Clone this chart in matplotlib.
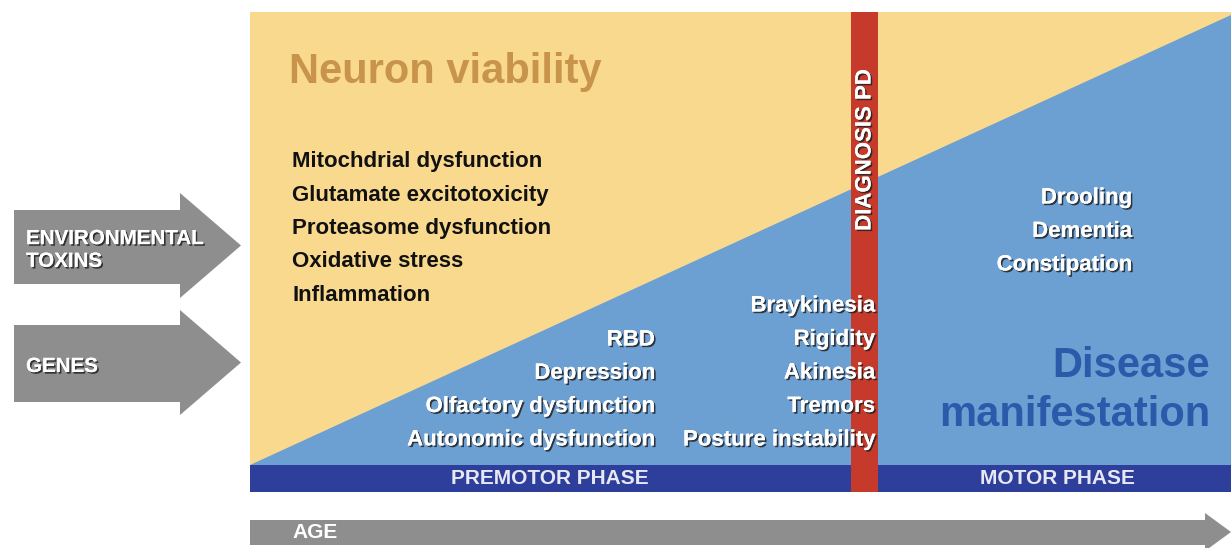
import matplotlib
matplotlib.use("Agg")
import matplotlib.pyplot as plt
from matplotlib.patches import Polygon, Rectangle
import matplotlib.patheffects as pe

plt.rcParams['font.family'] = ['Liberation Sans', 'DejaVu Sans']

# ---- content ----
title_top = "Neuron viability"
title_bottom = ["Disease", "manifestation"]
mechanisms = ["Mitochdrial dysfunction", "Glutamate excitotoxicity",
              "Proteasome dysfunction", "Oxidative stress", "Inflammation"]
premotor_symptoms = ["RBD", "Depression", "Olfactory dysfunction", "Autonomic dysfunction"]
motor_symptoms = ["Braykinesia", "Rigidity", "Akinesia", "Tremors", "Posture instability"]
late_symptoms = ["Drooling", "Dementia", "Constipation"]
phases = ["PREMOTOR PHASE", "MOTOR PHASE"]
inputs = ["ENVIRONMENTAL\nTOXINS", "GENES"]
diagnosis = "DIAGNOSIS PD"
axis_label = "AGE"

YELLOW = "#f9d98e"
BLUE = "#6c9fd2"
DARK = "#2d3f9b"
RED = "#c63a2b"
GRAY = "#8e8e8e"

fig = plt.figure(figsize=(12.31, 5.48), dpi=100)
ax = fig.add_axes([0, 0, 1, 1])
ax.set_xlim(0, 1231)
ax.set_ylim(548, 0)
ax.axis("off")

L, R, T, B = 250, 1231, 12, 465
ax.add_patch(Rectangle((L, T), R - L, B - T, color=YELLOW, lw=0))
ax.add_patch(Polygon([(L, B), (R, B), (R, 15)], closed=True, color=BLUE, lw=0))
ax.add_patch(Rectangle((L, B), R - L, 27, color=DARK, lw=0))
ax.add_patch(Rectangle((851, T), 27, 492 - T, color=RED, lw=0))

shadow = [pe.withSimplePatchShadow(offset=(1.2, -1.2), shadow_rgbFace="#222222", alpha=0.85), pe.Normal()]

ax.text(289, 72, title_top, fontsize=30, fontweight="bold", color="#c8944c",
        ha="left", va="center")
ax.text(1210, 366, title_bottom[0], fontsize=30, fontweight="bold", color="#2a5aa9",
        ha="right", va="center")
ax.text(1210, 415, title_bottom[1], fontsize=30, fontweight="bold", color="#2a5aa9",
        ha="right", va="center")

FS = 16
for i, t in enumerate(mechanisms):
    ax.text(292, 162 + i * 33.3, t, fontsize=FS, fontweight="bold", color="#111111",
            ha="left", va="center")
for i, t in enumerate(premotor_symptoms):
    ax.text(655, 340 + i * 33.3, t, fontsize=FS, fontweight="bold", color="white",
            ha="right", va="center", path_effects=shadow)
for i, t in enumerate(motor_symptoms):
    ax.text(875, 306 + i * 33.5, t, fontsize=FS, fontweight="bold", color="white",
            ha="right", va="center", path_effects=shadow)
for i, t in enumerate(late_symptoms):
    ax.text(1132, 198 + i * 33.5, t, fontsize=FS, fontweight="bold", color="white",
            ha="right", va="center", path_effects=shadow)

ax.text(865, 150, diagnosis, fontsize=16, fontweight="bold", color="white",
        rotation=90, ha="center", va="center", path_effects=shadow)

ax.text(550, 479, phases[0], fontsize=15, fontweight="bold", color="#e8e8f4",
        ha="center", va="center")
ax.text(1057, 479, phases[1], fontsize=15, fontweight="bold", color="#e8e8f4",
        ha="center", va="center")

ax.add_patch(Polygon([(250, 520), (1205, 520), (1205, 513), (1231, 532),
                      (1205, 551), (1205, 545), (250, 545)], closed=True, color=GRAY, lw=0))
ax.text(292, 533, axis_label, fontsize=15, fontweight="bold", color="white",
        ha="left", va="center")

arrow_y = [(210, 284, 193, 298), (325, 402, 310, 415)]
for (st, sb, ht, hb), lab in zip(arrow_y, inputs):
    mid = (ht + hb) / 2
    ax.add_patch(Polygon([(14, st), (180, st), (180, ht), (241, mid), (180, hb),
                          (180, sb), (14, sb)], closed=True, color=GRAY, lw=0))
    ax.text(26, (st + sb) / 2 + 3, lab, fontsize=14.8, fontweight="bold", color="white",
            ha="left", va="center", linespacing=1.25, path_effects=shadow)

fig.savefig("out.png", dpi=100)
